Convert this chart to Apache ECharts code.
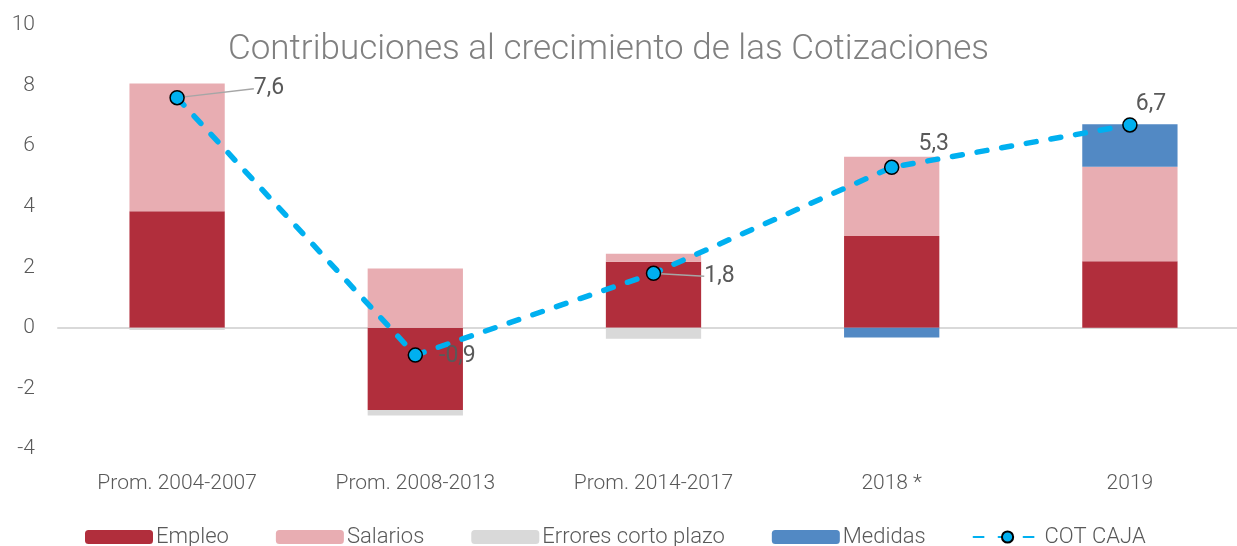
<!DOCTYPE html>
<html>
<head>
<meta charset="utf-8">
<script src="https://cdn.jsdelivr.net/npm/echarts@6/dist/echarts.min.js"></script>
<style>
	html, body { margin: 0; padding: 0; background: #fff; }
	#chart { width: 1237px; height: 546px; }
</style>
</head>
<body>
<div id="chart"></div>
<script>
var categories = ['Prom. 2004-2007', 'Prom. 2008-2013', 'Prom. 2014-2017', '2018 *', '2019'];
var empleo = [3.85, -2.71, 2.18, 3.03, 2.2];
var salarios = [4.22, 1.96, 0.27, 2.62, 3.12];
var errores = [-0.07, -0.18, -0.36, 0, 0];
var medidas = [0, 0, 0, -0.32, 1.4];
var cotCaja = [7.6, -0.9, 1.8, 5.3, 6.7];
var yTicks = [-4, -2, 0, 2, 4, 6, 8, 10];

// desplazamiento de las etiquetas del COT CAJA
var labelPos = ['right', 'right', 'right', 'top', 'top'];
var labelShift = [[64, -9], [11, 1], [38, 3], [42, 1], [21, 4]];
var labelGuide = [true, false, true, false, false];

var txt = '#595959';
var font = 'Roboto';

var chart = echarts.init(document.getElementById('chart'));

var cotData = cotCaja.map(function(v, i) {
	return {
		value: v,
		label: { position: labelPos[i] },
		labelLine: { show: labelGuide[i] }
	};
});

chart.setOption({
	animation: false,
	title: {
		text: 'Contribuciones al crecimiento de las Cotizaciones',
		left: 223,
		top: 28,
		textStyle: {
			color: '#808080',
			fontFamily: font,
			fontWeight: 300,
			fontSize: 35
		}
	},
	legend: {
		top: 521,
		left: 80,
		itemWidth: 68,
		itemHeight: 14,
		itemGap: 47,
		textStyle: { color: txt, fontFamily: font, fontWeight: 300, fontSize: 22, padding: [0, 0, 0, -2] },
		data: ['Empleo', 'Salarios', 'Errores corto plazo', 'Medidas', 'COT CAJA']
	},
	grid: {
		left: 58,
		top: 25,
		right: -12,
		height: 424,
		outerBoundsMode: 'none'
	},
	xAxis: {
		type: 'category',
		data: categories,
		axisLine: { lineStyle: { color: '#d9d9d9', width: 2 } },
		axisTick: { show: false },
		axisLabel: {
			color: txt,
			fontFamily: font,
			fontWeight: 300,
			fontSize: 21,
			interval: 0,
			margin: 35,
			verticalAlign: 'middle'
		}
	},
	yAxis: {
		type: 'value',
		min: yTicks[0],
		max: yTicks[yTicks.length - 1],
		interval: 2,
		axisLine: { show: false },
		axisTick: { show: false },
		splitLine: { show: false },
		axisLabel: { color: txt, fontFamily: font, fontWeight: 300, fontSize: 21, margin: 23 }
	},
	series: [{
		name: 'Empleo',
		type: 'bar',
		stack: 'c',
		barWidth: '40%',
		itemStyle: { color: '#B12E3C' },
		data: empleo
	}, {
		name: 'Salarios',
		type: 'bar',
		stack: 'c',
		itemStyle: { color: '#E8ADB2' },
		data: salarios
	}, {
		name: 'Errores corto plazo',
		type: 'bar',
		stack: 'c',
		itemStyle: { color: '#D9D9D9' },
		data: errores
	}, {
		name: 'Medidas',
		type: 'bar',
		stack: 'c',
		itemStyle: { color: '#5289C4' },
		data: medidas
	}, {
		name: 'COT CAJA',
		type: 'line',
		zlevel: 1,
		z: 10,
		symbol: 'circle',
		symbolSize: 14,
		itemStyle: { color: '#00B0F0', borderColor: '#000', borderWidth: 1.5 },
		lineStyle: { color: '#00B0F0', width: 5.5, type: [10, 15], cap: 'round' },
		label: {
			show: true,
			distance: 5,
			color: txt,
			fontFamily: font,
			fontSize: 23,
			formatter: function(p) { return String(p.value).replace('.', ','); }
		},
		labelLine: { show: true, lineStyle: { color: '#a6a6a6', width: 1.5 } },
		labelLayout: function(p) {
			return { dx: labelShift[p.dataIndex][0], dy: labelShift[p.dataIndex][1] };
		},
		data: cotData
	}]
});
</script>
</body>
</html>
